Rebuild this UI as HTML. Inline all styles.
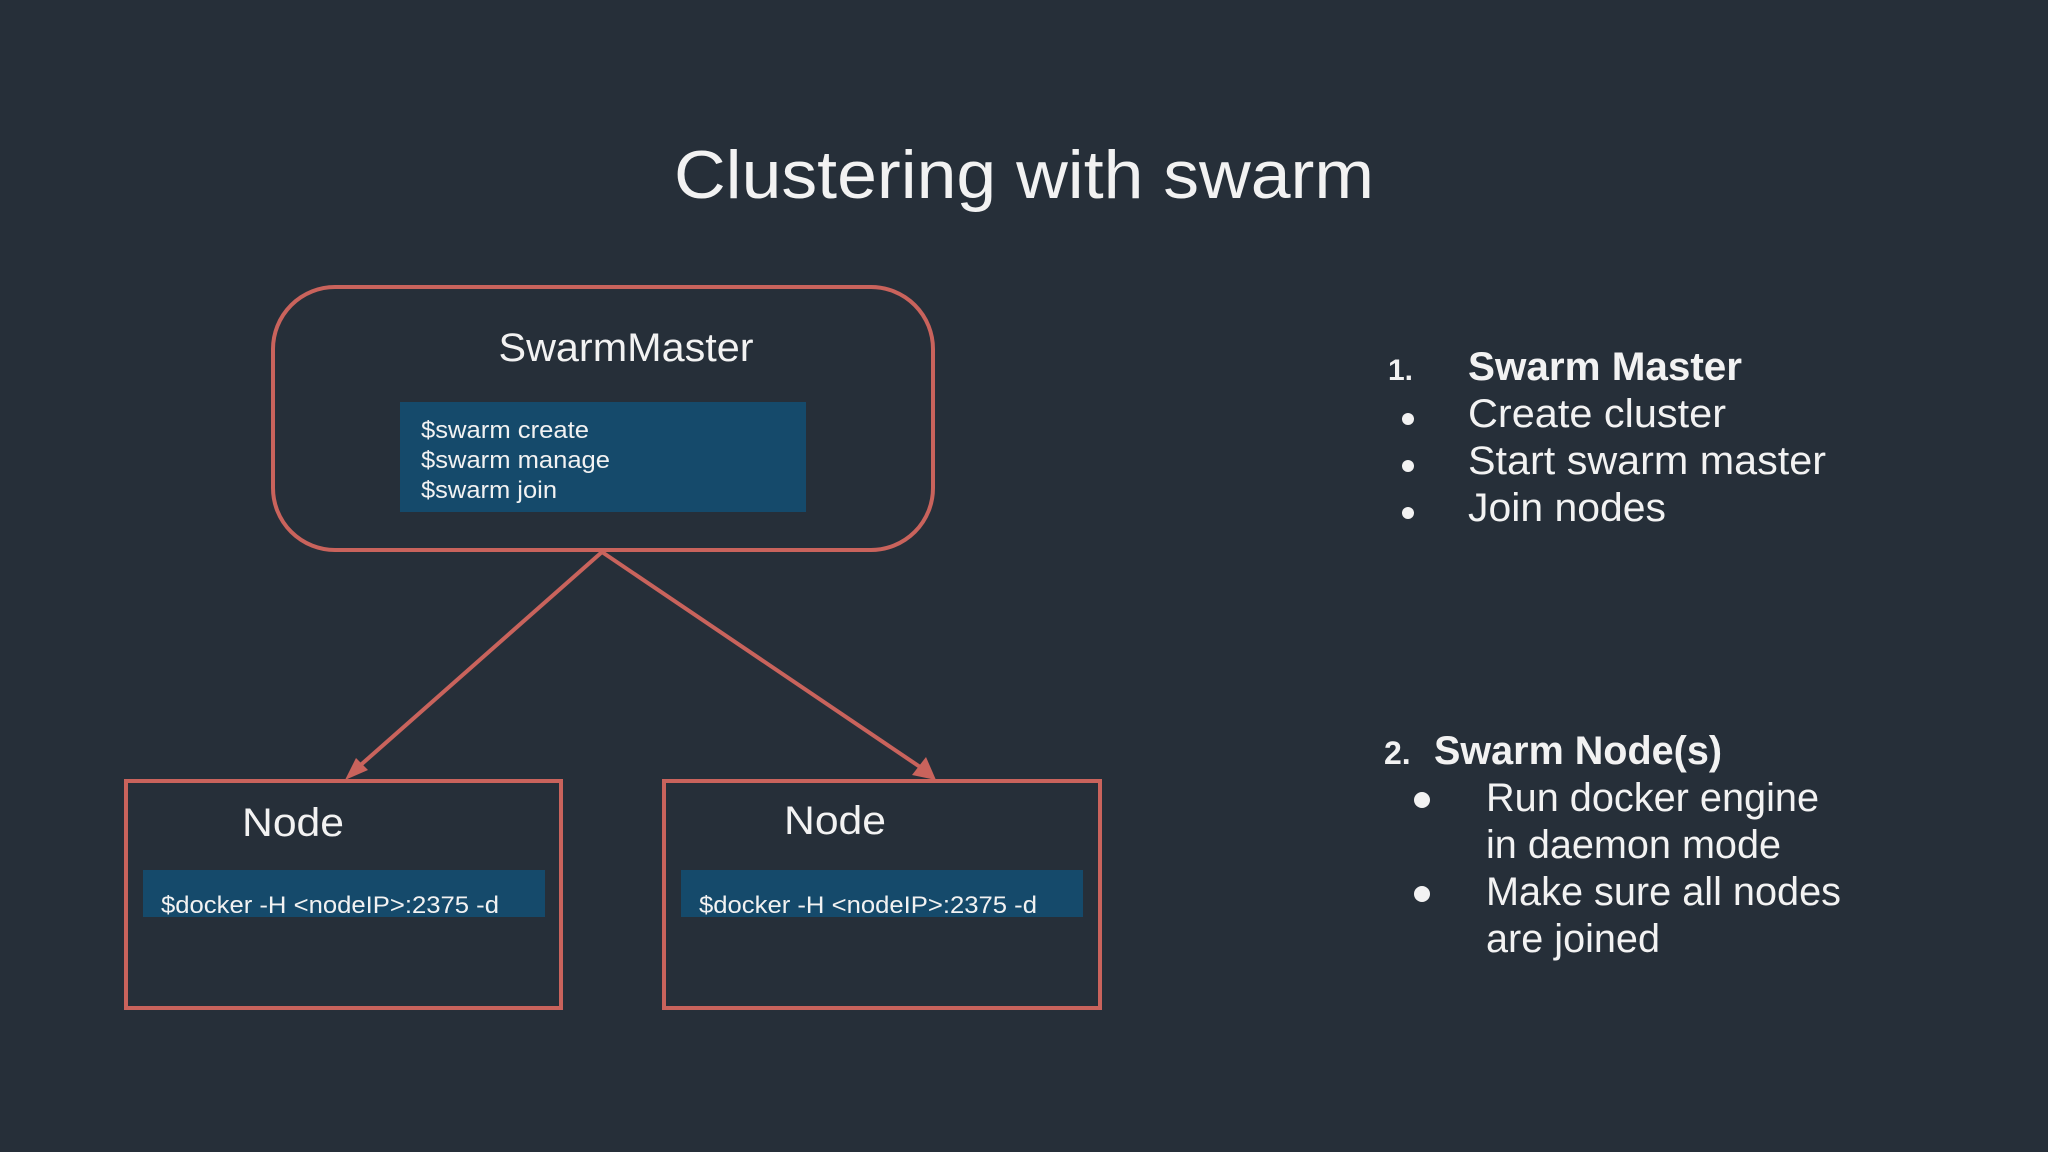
<!DOCTYPE html>
<html><head><meta charset="utf-8"><style>
html,body{margin:0;padding:0;background:#262f39;}
svg{display:block}
text{font-family:"Liberation Sans",sans-serif;fill:#f2f2f2}
</style></head><body>
<svg width="2048" height="1152" viewBox="0 0 2048 1152" xmlns="http://www.w3.org/2000/svg">
<rect width="2048" height="1152" fill="#262f39"/>
<text x="1024" y="198" font-size="68" text-anchor="middle" textLength="700" lengthAdjust="spacingAndGlyphs">Clustering with swarm</text>
<rect x="273" y="287" width="660" height="263" rx="62" fill="none" stroke="#c9635c" stroke-width="4"/>
<rect x="400" y="402" width="406" height="110" fill="#154a6b"/>
<text x="626" y="361" font-size="40" text-anchor="middle" textLength="255" lengthAdjust="spacingAndGlyphs">SwarmMaster</text>
<text x="421" y="438" font-size="24" textLength="168" lengthAdjust="spacingAndGlyphs">$swarm create</text>
<text x="421" y="468" font-size="24" textLength="189" lengthAdjust="spacingAndGlyphs">$swarm manage</text>
<text x="421" y="498" font-size="24" textLength="136" lengthAdjust="spacingAndGlyphs">$swarm join</text>
<g stroke="#c9635c" stroke-width="4" fill="none">
<line x1="602" y1="552" x2="355" y2="770"/>
<line x1="602" y1="552" x2="926" y2="771"/>
</g>
<polygon points="345,780 356,758 368,770" fill="#c9635c"/>
<polygon points="936,780 912,775 926,757" fill="#c9635c"/>
<rect x="126" y="781" width="435" height="227" fill="none" stroke="#c9635c" stroke-width="4"/>
<rect x="664" y="781" width="436" height="227" fill="none" stroke="#c9635c" stroke-width="4"/>
<rect x="143" y="870" width="402" height="47" fill="#154a6b"/>
<rect x="681" y="870" width="402" height="47" fill="#154a6b"/>
<text x="242" y="836" font-size="40" textLength="102" lengthAdjust="spacingAndGlyphs">Node</text>
<text x="784" y="834" font-size="40" textLength="102" lengthAdjust="spacingAndGlyphs">Node</text>
<text x="161" y="913" font-size="24" textLength="338" lengthAdjust="spacingAndGlyphs">$docker -H &lt;nodeIP&gt;:2375 -d</text>
<text x="699" y="913" font-size="24" textLength="338" lengthAdjust="spacingAndGlyphs">$docker -H &lt;nodeIP&gt;:2375 -d</text>
<g font-size="40">
<text x="1388" y="380" font-size="30" font-weight="bold">1.</text>
<text x="1468" y="380" font-weight="bold" textLength="274" lengthAdjust="spacingAndGlyphs">Swarm Master</text>
<text x="1468" y="427" textLength="258" lengthAdjust="spacingAndGlyphs">Create cluster</text>
<text x="1468" y="474" textLength="358" lengthAdjust="spacingAndGlyphs">Start swarm master</text>
<text x="1468" y="521" textLength="198" lengthAdjust="spacingAndGlyphs">Join nodes</text>
<circle cx="1408" cy="419" r="6" fill="#f2f2f2"/>
<circle cx="1408" cy="466" r="6" fill="#f2f2f2"/>
<circle cx="1408" cy="513" r="6" fill="#f2f2f2"/>
<text x="1384" y="764" font-size="32" font-weight="bold">2.</text>
<text x="1434" y="764" font-weight="bold" textLength="288" lengthAdjust="spacingAndGlyphs">Swarm Node(s)</text>
<text x="1486" y="811" textLength="333" lengthAdjust="spacingAndGlyphs">Run docker engine</text>
<text x="1486" y="858" textLength="295" lengthAdjust="spacingAndGlyphs">in daemon mode</text>
<text x="1486" y="905" textLength="355" lengthAdjust="spacingAndGlyphs">Make sure all nodes</text>
<text x="1486" y="952" textLength="174" lengthAdjust="spacingAndGlyphs">are joined</text>
<circle cx="1422" cy="800" r="8" fill="#f2f2f2"/>
<circle cx="1422" cy="894" r="8" fill="#f2f2f2"/>
</g>
</svg>
</body></html>
